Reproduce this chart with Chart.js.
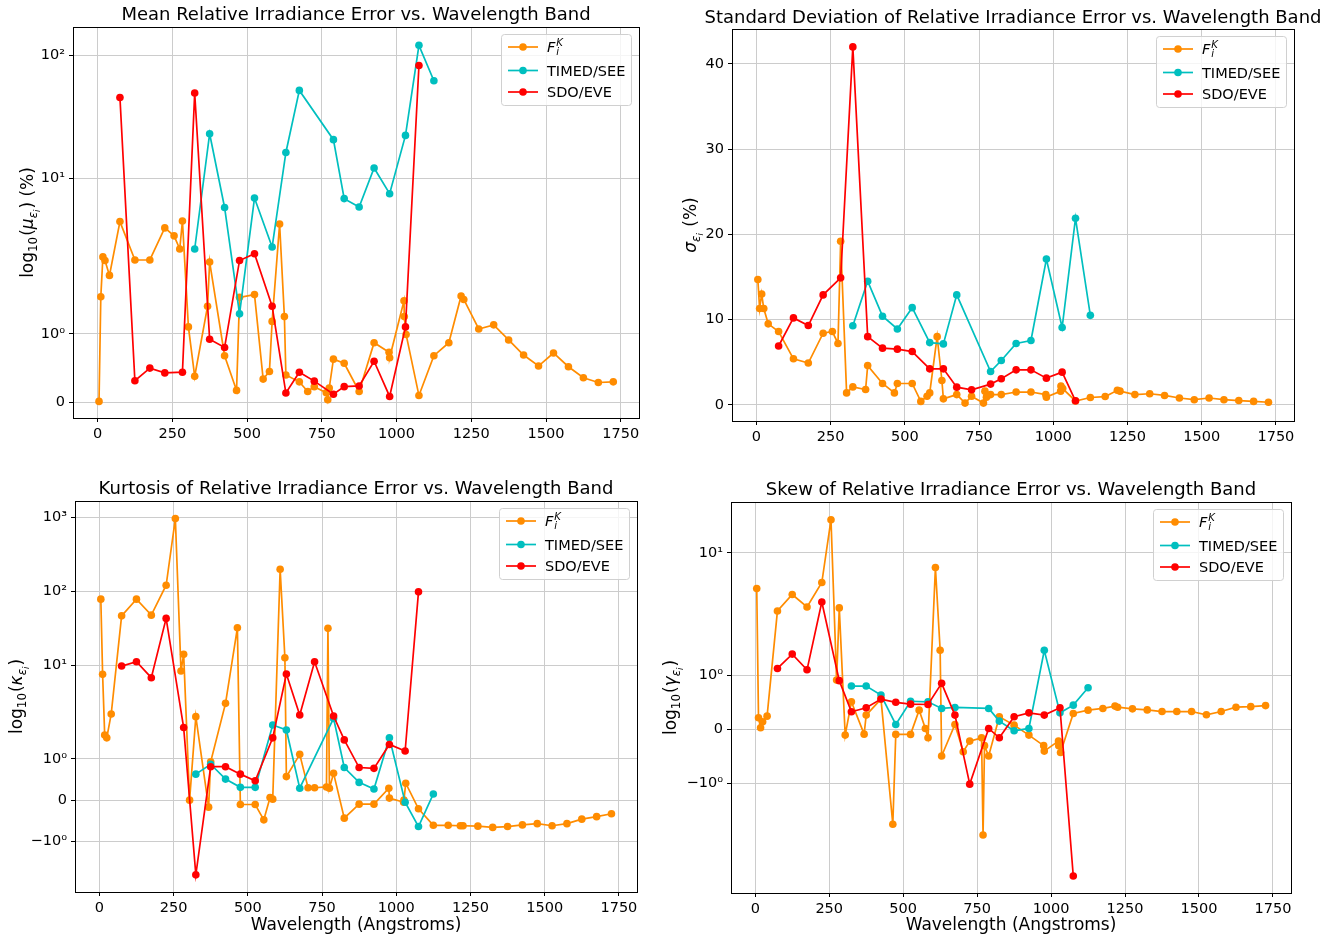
<!DOCTYPE html>
<html>
<head>
<meta charset="utf-8">
<script src="https://cdn.jsdelivr.net/npm/chart.js@4.4.0/dist/chart.umd.min.js"></script>
<style>
  html, body { margin: 0; padding: 0; background: #fff; }
  #fig { position: relative; width: 1338px; height: 943px; overflow: hidden; }
  canvas { position: absolute; }
</style>
</head>
<body>
<div id="fig">
  <canvas id="cMean" width="669" height="471" style="left:0;top:0"></canvas>
  <canvas id="cStd" width="688" height="471" style="left:650px;top:0"></canvas>
  <canvas id="cKurt" width="669" height="472" style="left:0;top:471px"></canvas>
  <canvas id="cSkew" width="688" height="472" style="left:650px;top:471px"></canvas>
</div>
<script>
// wavelength bands (Angstroms)
const wavelengthsF = [5, 11, 18, 25, 40, 75, 125, 175, 225, 256, 275, 284, 304, 325, 368, 375,
  425, 465, 475, 525, 554, 575, 584, 609, 625, 630, 675, 703, 725, 765, 770, 775, 789,
  825, 875, 925, 975, 977, 1025, 1026, 1032, 1075, 1125, 1175, 1216, 1225, 1275, 1325,
  1375, 1425, 1475, 1525, 1575, 1625, 1675, 1725];
const wavelengthsSEE = [325, 375, 425, 475, 525, 584, 630, 675, 789, 825, 875, 925, 977, 1030, 1075, 1125];
const wavelengthsEVE = [75, 125, 175, 225, 284, 325, 375, 425, 475, 525, 584, 630, 675, 725, 789,
  825, 875, 925, 977, 1030, 1075];
const xTicks = [0, 250, 500, 750, 1000, 1250, 1500, 1750];

// mean relative error (%)
const meanF = [0.015, 1.54, 2.33, 2.18, 1.85, 4.5, 2.2, 2.2, 4.0, 3.45, 2.7, 4.55, 1.1, 0.38, 1.4, 2.12,
  0.68, 0.175, 1.53, 1.57, 0.34, 0.45, 1.18, 4.3, 1.25, 0.4, 0.3, 0.16, 0.23, 0.14, 0.04, 0.21, 0.63,
  0.57, 0.16, 0.87, 0.73, 0.65, 1.48, 1.25, 0.99, 0.1, 0.68, 0.87, 1.55, 1.5, 1.07, 1.13,
  0.91, 0.69, 0.53, 0.72, 0.52, 0.36, 0.29, 0.3];
const meanSEE = [2.7, 23.1, 5.85, 1.29, 6.97, 2.8, 16.3, 51.8, 20.7, 6.9, 5.9, 12.2, 7.56, 22.4, 120, 62];
const meanEVE = [45.4, 0.316, 0.5, 0.43, 0.44, 49.3, 0.92, 0.8, 2.18, 2.47, 1.4, 0.137, 0.44, 0.31, 0.12,
  0.23, 0.24, 0.6, 0.087, 1.1, 82.5];

// standard deviation (%)
const stdF = [14.7, 11.3, 13.0, 11.3, 9.5, 8.6, 5.4, 4.9, 8.4, 8.6, 7.2, 19.2, 1.4, 2.1, 1.8, 4.6,
  2.5, 1.4, 2.5, 2.5, 0.4, 1.0, 1.4, 8.0, 2.85, 0.7, 1.2, 0.2, 1.0, 0.2, 1.6, 0.9, 1.2,
  1.2, 1.5, 1.5, 1.2, 0.9, 1.6, 2.2, 1.9, 0.45, 0.86, 0.97, 1.7, 1.6, 1.2, 1.3,
  1.1, 0.8, 0.6, 0.8, 0.6, 0.5, 0.4, 0.3];
const stdSEE = [9.27, 14.5, 10.4, 8.9, 11.4, 7.3, 7.15, 12.9, 3.9, 5.2, 7.2, 7.55, 17.1, 9.07, 21.9, 10.5];
const stdEVE = [6.9, 10.2, 9.3, 12.9, 14.9, 42.0, 8.0, 6.65, 6.53, 6.25, 4.22, 4.22, 2.07, 1.76, 2.43,
  3.05, 4.1, 4.1, 3.13, 3.83, 0.47];

// kurtosis
const kurtF = [78.6, 7.65, 1.58, 1.51, 2.24, 46.9, 78.6, 47.9, 121, 955, 8.47, 14.2, 0, 2.06, -0.17, 0.93,
  3.11, 32.4, -0.106, -0.106, -0.477, 0.063, 0.024, 199, 12.8, 0.57, 1.11, 0.3, 0.3, 0.32, 31.8, 0.29, 0.65,
  -0.436, -0.097, -0.097, 0.29, 0.05, -0.05, 0.0, 0.41, -0.21, -0.61, -0.61, -0.62, -0.62, -0.63, -0.66,
  -0.64, -0.6, -0.57, -0.62, -0.57, -0.46, -0.4, -0.33];
const kurtSEE = [0.63, 0.87, 0.51, 0.31, 0.31, 1.82, 1.7, 0.29, 1.98, 0.79, 0.43, 0.27, 1.51, -0.05, -0.64, 0.15];
const kurtEVE = [9.88, 11.3, 6.89, 43.3, 1.76, -1.81, 0.81, 0.81, 0.63, 0.47, 1.51, 7.72, 2.17, 11.3, 2.1,
  1.46, 0.79, 0.77, 1.35, 1.19, 98.6];

// skew
const skewF = [4.31, 0.214, 0.03, 0.14, 0.245, 2.54, 3.74, 2.79, 4.97, 21.9, 0.91, 2.73, -0.105, 0.51, -0.087, 0.264,
  0.56, -1.75, -0.092, -0.092, 0.356, 0.018, -0.155, 7.08, 1.46, -0.49, 0.092, -0.413, -0.216, -0.155, -1.95, -0.3, -0.49,
  0.233, 0.079, -0.105, -0.3, -0.4, -0.216, -0.3, -0.425, 0.295, 0.356, 0.387, 0.43, 0.41, 0.38, 0.36,
  0.33, 0.33, 0.33, 0.27, 0.33, 0.41, 0.42, 0.44];
const skewSEE = [0.8, 0.8, 0.633, 0.092, 0.52, 0.51, 0.387, 0.405, 0.387, 0.153, -0.026, 0.018, 1.46, 0.306, 0.448, 0.77];
const skewEVE = [1.125, 1.39, 1.1, 3.14, 0.9, 0.325, 0.4, 0.56, 0.5, 0.466, 0.46, 0.85, 0.264, -1.01, 0.018,
  -0.155, 0.233, 0.306, 0.264, 0.4, -4.93];

const FONT = '"DejaVu Sans", "Liberation Sans", sans-serif';
const COLORS = { F: "#ff8c00", SEE: "#00bfbf", EVE: "#ff0000" };

// symlog transform, linthresh 2, linscale 1 (matplotlib style)
const LIN = 2;
const LSA = 1 / (1 - 1 / 10);
const symT = (v) => {
  const a = Math.abs(v);
  return a <= LIN ? v * LSA : Math.sign(v) * LIN * (LSA + Math.log10(a / LIN));
};
const symInv = (t) => {
  const a = Math.abs(t);
  return a <= LIN * LSA ? t / LSA : Math.sign(t) * LIN * Math.pow(10, a / LIN - LSA);
};

class SymlogScale extends Chart.Scale {
  static id = "symlog";
  static defaults = {};
  determineDataLimits() {
    this.min = symInv(this.options.tMin);
    this.max = symInv(this.options.tMax);
  }
  buildTicks() {
    const t0 = this.options.tMin, t1 = this.options.tMax;
    return [-1000, -100, -10, -1, 0, 1, 10, 100, 1000]
      .filter((v) => symT(v) >= t0 && symT(v) <= t1)
      .map((v) => ({ value: v }));
  }
  configure() {
    super.configure();
    this._t0 = symT(this.min);
    this._t1 = symT(this.max);
  }
  getLabelForValue(v) { return String(v); }
  getPixelForValue(v) {
    return this.getPixelForDecimal((symT(v) - this._t0) / (this._t1 - this._t0));
  }
  getValueForPixel(p) {
    return symInv(this._t0 + this.getDecimalForPixel(p) * (this._t1 - this._t0));
  }
  getPixelForTick(i) { return this.getPixelForValue(this.ticks[i].value); }
}
Chart.register(SymlogScale);

const SUP = { "0": "\u2070", "1": "\u00b9", "2": "\u00b2", "3": "\u00b3" };
const symLabel = (v) => {
  if (v === 0) return "0";
  const e = Math.round(Math.log10(Math.abs(v)));
  return (v < 0 ? "\u2212" : "") + "10" + String(e).split("").map((c) => SUP[c]).join("");
};
const plainLabel = (v) => String(v);

const fontOf = (p, size) => (p.it ? "italic " : "") + (size * (p.s || 1)) + "px " + FONT;

function drawRich(ctx, parts, cx, cy, size, rotate) {
  ctx.save();
  ctx.translate(cx, cy);
  if (rotate) ctx.rotate(-Math.PI / 2);
  let w = 0;
  parts.forEach((p) => { ctx.font = fontOf(p, size); w += ctx.measureText(p.t).width + (p.gap || 0); });
  let x = -w / 2;
  ctx.textAlign = "left";
  ctx.textBaseline = "alphabetic";
  ctx.fillStyle = "#000";
  parts.forEach((p) => {
    ctx.font = fontOf(p, size);
    ctx.fillText(p.t, x, size * 0.36 + (p.dy || 0) * size);
    x += ctx.measureText(p.t).width + (p.gap || 0);
  });
  ctx.restore();
}

const logLabel = (sym) => [
  { t: "log" }, { t: "10", s: 0.7, dy: 0.22, gap: 1 }, { t: "(" }, { t: sym, it: true },
  { t: "\u03b5", it: true, s: 0.7, dy: 0.22 }, { t: "i", it: true, s: 0.5, dy: 0.38, gap: 1 }, { t: ")" },
];

function drawLegend(ctx, area) {
  const size = 14.5;
  const w = 130, h = 71;
  const x = area.right - 8 - w, y = area.top + 7;
  ctx.save();
  ctx.beginPath();
  ctx.roundRect(x + 0.5, y + 0.5, w, h, 3);
  ctx.fillStyle = "rgba(255,255,255,0.8)";
  ctx.fill();
  ctx.strokeStyle = "#d0d0d0";
  ctx.lineWidth = 1;
  ctx.stroke();
  const rows = [
    { c: COLORS.F, y: y + 13 },
    { c: COLORS.SEE, y: y + 36.5 },
    { c: COLORS.EVE, y: y + 58 },
  ];
  rows.forEach((r) => {
    ctx.strokeStyle = r.c;
    ctx.lineWidth = 1.7;
    ctx.beginPath();
    ctx.moveTo(x + 7, r.y);
    ctx.lineTo(x + 37, r.y);
    ctx.stroke();
    ctx.fillStyle = r.c;
    ctx.beginPath();
    ctx.arc(x + 22, r.y, 3.8, 0, Math.PI * 2);
    ctx.fill();
  });
  ctx.fillStyle = "#000";
  ctx.textAlign = "left";
  ctx.textBaseline = "alphabetic";
  const tx = x + 46;
  ctx.font = "italic " + size + "px " + FONT;
  ctx.fillText("F", tx, rows[0].y + 5);
  const wf = ctx.measureText("F").width;
  ctx.font = "italic " + size * 0.7 + "px " + FONT;
  ctx.fillText("i", tx + wf + 1, rows[0].y + 8);
  ctx.fillText("K", tx + wf + 1, rows[0].y - 1);
  ctx.font = size + "px " + FONT;
  ctx.fillText("TIMED/SEE", tx, rows[1].y + 5);
  ctx.fillText("SDO/EVE", tx, rows[2].y + 5);
  ctx.restore();
}

function makeDecor(cfg) {
  return {
    id: "decor",
    afterDraw(chart) {
      const ctx = chart.ctx, a = chart.chartArea;
      ctx.save();
      ctx.strokeStyle = "#000";
      ctx.lineWidth = 1;
      ctx.strokeRect(Math.round(a.left) + 0.5, Math.round(a.top) + 0.5,
        Math.round(a.right - a.left), Math.round(a.bottom - a.top));
      ctx.fillStyle = "#000";
      ctx.font = "18px " + FONT;
      ctx.textAlign = "center";
      ctx.textBaseline = "middle";
      ctx.fillText(cfg.title, (a.left + a.right) / 2, cfg.titleY);
      if (cfg.xLabel) {
        ctx.font = "17px " + FONT;
        ctx.fillText(cfg.xLabel, (a.left + a.right) / 2, cfg.xLabelY);
      }
      ctx.restore();
      drawRich(ctx, cfg.yLabel, cfg.yLabelX, (a.top + a.bottom) / 2, 17, true);
      drawLegend(ctx, a);
    },
  };
}

const pts = (xs, ys) => xs.map((x, i) => ({ x: x, y: ys[i] }));

function series(label, xs, ys, color, order) {
  return {
    label: label,
    data: pts(xs, ys),
    borderColor: color,
    backgroundColor: color,
    borderWidth: 1.7,
    pointRadius: 3.8,
    pointBorderWidth: 0,
    pointBackgroundColor: color,
    tension: 0,
    order: order,
  };
}

const tickFont = { family: FONT, size: 14.5 };
const gridStyle = { color: "#cccccc", lineWidth: 1, tickColor: "#000", tickLength: 4, drawTicks: true };

function makeChart(id, cfg) {
  const yScale = cfg.symlog
    ? { type: "symlog", tMin: cfg.tMin, tMax: cfg.tMax, ticks: { callback: symLabel } }
    : { type: "linear", min: cfg.yMin, max: cfg.yMax, ticks: { callback: plainLabel },
        afterBuildTicks: (ax) => { ax.ticks = cfg.yTicks.map((v) => ({ value: v })); } };
  yScale.afterFit = (ax) => { ax.width = cfg.yW; };
  yScale.grid = gridStyle;
  yScale.border = { display: false };
  yScale.ticks = Object.assign({}, yScale.ticks, { font: tickFont, color: "#000", padding: 4 });

  return new Chart(document.getElementById(id), {
    type: "line",
    data: {
      datasets: [
        series("F", wavelengthsF, cfg.f, COLORS.F, 3),
        series("TIMED/SEE", wavelengthsSEE, cfg.see, COLORS.SEE, 2),
        series("SDO/EVE", wavelengthsEVE, cfg.eve, COLORS.EVE, 1),
      ],
    },
    options: {
      responsive: false,
      animation: false,
      events: [],
      layout: { padding: { left: 0, top: cfg.padTop, right: cfg.padRight, bottom: 0 } },
      scales: {
        x: {
          type: "linear",
          min: -82,
          max: 1811,
          afterBuildTicks: (ax) => { ax.ticks = xTicks.map((v) => ({ value: v })); },
          afterFit: (ax) => { ax.height = cfg.xH; },
          grid: gridStyle,
          border: { display: false },
          ticks: { font: tickFont, color: "#000", padding: 4, maxRotation: 0, autoSkip: false,
            callback: plainLabel },
        },
        y: yScale,
      },
      plugins: { legend: { display: false }, tooltip: { enabled: false } },
    },
    plugins: [makeDecor(cfg)],
  });
}

makeChart("cMean", {
  f: meanF, see: meanSEE, eve: meanEVE,
  symlog: true, tMin: -0.252, tMax: 6.075,
  padTop: 27, padRight: 30, yW: 73, xH: 53,
  title: "Mean Relative Irradiance Error vs. Wavelength Band", titleY: 15,
  yLabel: logLabel("\u03bc").concat([{ t: " (%)" }]), yLabelX: 27,
});

makeChart("cStd", {
  f: stdF, see: stdSEE, eve: stdEVE,
  symlog: false, yMin: -1.9, yMax: 44.1, yTicks: [0, 10, 20, 30, 40],
  padTop: 29, padRight: 44, yW: 82, xH: 50,
  title: "Standard Deviation of Relative Irradiance Error vs. Wavelength Band", titleY: 18,
  yLabel: [{ t: "\u03c3", it: true }, { t: "\u03b5", it: true, s: 0.7, dy: 0.22 },
    { t: "i", it: true, s: 0.5, dy: 0.38, gap: 1 }, { t: " (%)" }],
  yLabelX: 40,
});

makeChart("cKurt", {
  f: kurtF, see: kurtSEE, eve: kurtEVE,
  symlog: true, tMin: -2.473, tMax: 8.054,
  padTop: 30, padRight: 32, yW: 75, xH: 51,
  title: "Kurtosis of Relative Irradiance Error vs. Wavelength Band", titleY: 18,
  xLabel: "Wavelength (Angstroms)", xLabelY: 455,
  yLabel: logLabel("\u03ba"), yLabelX: 16,
});

makeChart("cSkew", {
  f: skewF, see: skewSEE, eve: skewEVE,
  symlog: true, tMin: -3.355, tMax: 4.664,
  padTop: 31, padRight: 47, yW: 81, xH: 50,
  title: "Skew of Relative Irradiance Error vs. Wavelength Band", titleY: 19,
  xLabel: "Wavelength (Angstroms)", xLabelY: 455,
  yLabel: logLabel("\u03b3"), yLabelX: 20,
});
</script>
</body>
</html>
